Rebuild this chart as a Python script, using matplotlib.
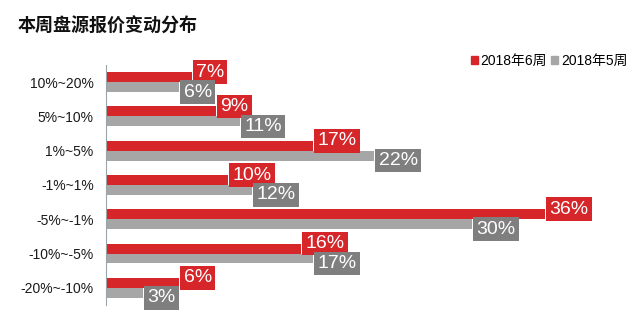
import numpy as np
import matplotlib.pyplot as plt
from matplotlib.patches import Patch

plt.rcParams["font.family"] = ["Liberation Sans", "Noto Sans CJK SC", "DejaVu Sans"]

categories = ["10%~20%", "5%~10%", "1%~5%", "-1%~1%", "-5%~-1%", "-10%~-5%", "-20%~-10%"]
week6 = [7, 9, 17, 10, 36, 16, 6]
week5 = [6, 11, 22, 12, 30, 17, 3]
series_names = ["2018年6周", "2018年5周"]

red = "#d7262a"
grey = "#a6a6a6"
grey_box = "#7f7f7f"

fig = plt.figure(figsize=(6.4, 3.2), dpi=100)
ax = fig.add_axes([0.166, 0.047, 0.834, 0.75])

y = np.arange(len(categories))
h = 0.29

ax.barh(y - h / 2, week6, height=h, color=red)
ax.barh(y + h / 2, week5, height=h, color=grey)

for yi, v in zip(y, week6):
    ax.text(v + 0.35, yi - h, f"{v}%", color="white", fontsize=14,
            ha="left", va="center",
            bbox=dict(boxstyle="square,pad=0.17", fc=red, ec="none"))
for yi, v in zip(y, week5):
    ax.text(v + 0.35, yi + h, f"{v}%", color="white", fontsize=14,
            ha="left", va="center",
            bbox=dict(boxstyle="square,pad=0.17", fc=grey_box, ec="none"))

ax.set_yticks(y)
ax.set_yticklabels(categories, fontsize=10, color="#1a1a1a")
ax.set_ylim(len(categories) - 0.5, -0.5)
ax.set_xlim(0, 43.8)
ax.set_xticks([])
ax.tick_params(axis="y", length=0, pad=9)
for s in ["top", "right", "bottom"]:
    ax.spines[s].set_visible(False)
ax.spines["left"].set_color("#9aa5a8")
ax.spines["left"].set_linewidth(0.8)

fig.text(0.028, 0.915, "本周盘源报价变动分布", fontsize=13, fontweight="bold",
         color="#111111", va="center")

handles = [Patch(color=red), Patch(color=grey)]
fig.legend(handles, series_names, loc="center right", bbox_to_anchor=(1.0, 0.81),
           ncol=2, frameon=False, fontsize=10, handlelength=0.5, handleheight=0.5,
           handletextpad=0.2, columnspacing=0.3)

fig.savefig("out.png", dpi=100)
